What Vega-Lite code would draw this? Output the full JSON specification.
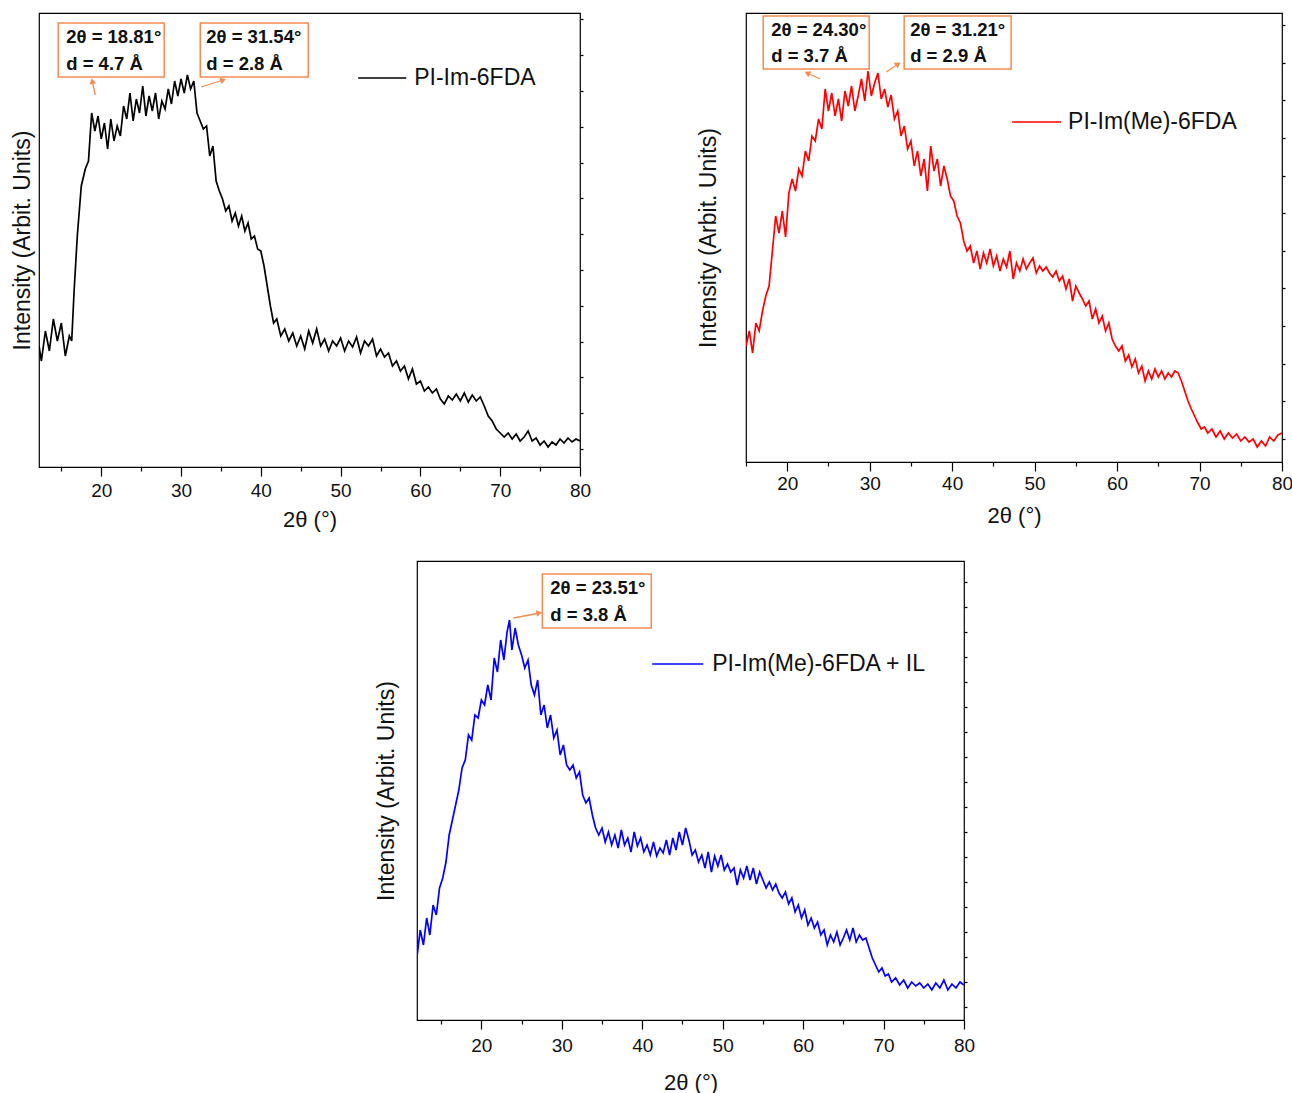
{
 "$schema": "https://vega.github.io/schema/vega-lite/v6.json",
 "padding": {"left": 10, "top": 12, "right": 0, "bottom": 0},
 "config": {
  "view": {"stroke": "#000", "strokeWidth": 1.2},
  "font": "Liberation Sans",
  "axis": {"labelFont": "Liberation Sans", "titleFont": "Liberation Sans", "labelColor": "#111", "titleColor": "#111", "tickColor": "#000", "domainColor": "#000", "grid": false, "titleFontWeight": "normal", "tickWidth": 1.2}
 },
 "datasets": {
  "s1": [
   {"x":12.2,"y":121},{"x":12.5,"y":106},{"x":13.0,"y":136},{"x":13.5,"y":116},{"x":14.0,"y":148},{"x":14.5,"y":126},{"x":15.0,"y":144},{"x":15.5,"y":111},{"x":16.0,"y":131},{"x":16.3,"y":126},{"x":16.6,"y":176},{"x":17.0,"y":231},{"x":17.5,"y":281},{"x":18.0,"y":298},{"x":18.4,"y":306},{"x":18.8,"y":354},{"x":19.2,"y":336},{"x":19.6,"y":351},{"x":20.0,"y":328},{"x":20.4,"y":344},{"x":20.8,"y":318},{"x":21.2,"y":348},{"x":21.6,"y":326},{"x":22.0,"y":341},{"x":22.4,"y":331},{"x":22.8,"y":361},{"x":23.2,"y":348},{"x":23.6,"y":374},{"x":24.0,"y":346},{"x":24.4,"y":368},{"x":24.8,"y":354},{"x":25.2,"y":381},{"x":25.6,"y":351},{"x":26.0,"y":371},{"x":26.4,"y":356},{"x":26.8,"y":374},{"x":27.2,"y":348},{"x":27.6,"y":366},{"x":28.0,"y":358},{"x":28.4,"y":378},{"x":28.8,"y":363},{"x":29.2,"y":386},{"x":29.6,"y":371},{"x":30.0,"y":388},{"x":30.4,"y":374},{"x":30.8,"y":392},{"x":31.2,"y":378},{"x":31.6,"y":386},{"x":32.0,"y":354},{"x":32.4,"y":346},{"x":32.8,"y":338},{"x":33.2,"y":341},{"x":33.6,"y":311},{"x":34.0,"y":321},{"x":34.4,"y":286},{"x":34.8,"y":276},{"x":35.2,"y":268},{"x":35.6,"y":256},{"x":36.0,"y":261},{"x":36.4,"y":246},{"x":36.8,"y":254},{"x":37.2,"y":241},{"x":37.6,"y":251},{"x":38.0,"y":236},{"x":38.4,"y":244},{"x":38.8,"y":228},{"x":39.2,"y":231},{"x":39.6,"y":218},{"x":40.0,"y":216},{"x":40.4,"y":201},{"x":40.8,"y":181},{"x":41.2,"y":161},{"x":41.6,"y":144},{"x":42.0,"y":148},{"x":42.5,"y":131},{"x":43.0,"y":138},{"x":43.5,"y":126},{"x":44.0,"y":134},{"x":44.5,"y":121},{"x":45.0,"y":131},{"x":45.5,"y":118},{"x":46.0,"y":136},{"x":46.5,"y":124},{"x":47.0,"y":138},{"x":47.5,"y":121},{"x":48.0,"y":128},{"x":48.5,"y":116},{"x":49.0,"y":126},{"x":49.5,"y":121},{"x":50.0,"y":129},{"x":50.5,"y":116},{"x":51.0,"y":126},{"x":51.5,"y":120},{"x":52.0,"y":130},{"x":52.5,"y":114},{"x":53.0,"y":126},{"x":53.5,"y":121},{"x":54.0,"y":128},{"x":54.5,"y":111},{"x":55.0,"y":118},{"x":55.5,"y":110},{"x":56.0,"y":114},{"x":56.5,"y":101},{"x":57.0,"y":106},{"x":57.5,"y":96},{"x":58.0,"y":101},{"x":58.5,"y":88},{"x":59.0,"y":98},{"x":59.5,"y":83},{"x":60.0,"y":86},{"x":60.5,"y":76},{"x":61.0,"y":80},{"x":61.5,"y":74},{"x":62.0,"y":78},{"x":62.5,"y":68},{"x":63.0,"y":63},{"x":63.5,"y":71},{"x":64.0,"y":67},{"x":64.5,"y":73},{"x":65.0,"y":66},{"x":65.5,"y":74},{"x":66.0,"y":65},{"x":66.5,"y":72},{"x":67.0,"y":66},{"x":67.5,"y":70},{"x":68.0,"y":61},{"x":68.5,"y":51},{"x":69.0,"y":46},{"x":69.5,"y":38},{"x":70.0,"y":34},{"x":70.5,"y":30},{"x":71.0,"y":34},{"x":71.5,"y":28},{"x":72.0,"y":33},{"x":72.5,"y":26},{"x":73.0,"y":30},{"x":73.5,"y":36},{"x":74.0,"y":26},{"x":74.5,"y":29},{"x":75.0,"y":22},{"x":75.5,"y":26},{"x":76.0,"y":20},{"x":76.5,"y":25},{"x":77.0,"y":22},{"x":77.5,"y":28},{"x":78.0,"y":24},{"x":78.5,"y":29},{"x":79.0,"y":25},{"x":79.5,"y":28},{"x":80.0,"y":26}
  ],
  "s2": [
   {"x":15.0,"y":116},{"x":15.4,"y":131},{"x":15.8,"y":109},{"x":16.2,"y":139},{"x":16.6,"y":131},{"x":17.0,"y":151},{"x":17.4,"y":166},{"x":17.8,"y":176},{"x":18.2,"y":211},{"x":18.6,"y":246},{"x":19.0,"y":229},{"x":19.4,"y":251},{"x":19.8,"y":225},{"x":20.2,"y":269},{"x":20.6,"y":283},{"x":21.0,"y":271},{"x":21.4,"y":293},{"x":21.8,"y":286},{"x":22.2,"y":311},{"x":22.6,"y":301},{"x":23.0,"y":326},{"x":23.4,"y":321},{"x":23.8,"y":343},{"x":24.2,"y":333},{"x":24.6,"y":373},{"x":25.0,"y":351},{"x":25.4,"y":369},{"x":25.8,"y":346},{"x":26.2,"y":363},{"x":26.6,"y":341},{"x":27.0,"y":371},{"x":27.4,"y":356},{"x":27.8,"y":376},{"x":28.2,"y":351},{"x":28.6,"y":366},{"x":29.0,"y":383},{"x":29.4,"y":361},{"x":29.8,"y":391},{"x":30.2,"y":366},{"x":30.6,"y":379},{"x":31.0,"y":389},{"x":31.4,"y":363},{"x":31.8,"y":373},{"x":32.2,"y":355},{"x":32.6,"y":367},{"x":33.0,"y":343},{"x":33.4,"y":351},{"x":33.8,"y":326},{"x":34.2,"y":336},{"x":34.6,"y":313},{"x":35.0,"y":321},{"x":35.4,"y":296},{"x":35.8,"y":311},{"x":36.2,"y":286},{"x":36.6,"y":303},{"x":37.0,"y":271},{"x":37.4,"y":316},{"x":37.8,"y":291},{"x":38.2,"y":303},{"x":38.6,"y":276},{"x":39.0,"y":296},{"x":39.4,"y":283},{"x":39.8,"y":266},{"x":40.2,"y":261},{"x":40.6,"y":246},{"x":41.0,"y":239},{"x":41.4,"y":221},{"x":41.8,"y":211},{"x":42.2,"y":216},{"x":42.6,"y":199},{"x":43.0,"y":211},{"x":43.4,"y":193},{"x":43.8,"y":209},{"x":44.2,"y":199},{"x":44.6,"y":213},{"x":45.0,"y":196},{"x":45.4,"y":206},{"x":45.8,"y":191},{"x":46.2,"y":203},{"x":46.6,"y":195},{"x":47.0,"y":211},{"x":47.4,"y":183},{"x":47.8,"y":199},{"x":48.2,"y":191},{"x":48.6,"y":203},{"x":49.0,"y":193},{"x":49.4,"y":199},{"x":49.8,"y":204},{"x":50.2,"y":189},{"x":50.6,"y":196},{"x":51.0,"y":191},{"x":51.4,"y":195},{"x":51.8,"y":189},{"x":52.2,"y":185},{"x":52.6,"y":191},{"x":53.0,"y":181},{"x":53.4,"y":186},{"x":53.8,"y":173},{"x":54.2,"y":183},{"x":54.6,"y":161},{"x":55.0,"y":176},{"x":55.4,"y":169},{"x":55.8,"y":163},{"x":56.2,"y":156},{"x":56.6,"y":161},{"x":57.0,"y":143},{"x":57.4,"y":153},{"x":57.8,"y":139},{"x":58.2,"y":146},{"x":58.6,"y":131},{"x":59.0,"y":139},{"x":59.4,"y":123},{"x":59.8,"y":116},{"x":60.2,"y":111},{"x":60.6,"y":116},{"x":61.0,"y":101},{"x":61.4,"y":107},{"x":61.8,"y":95},{"x":62.2,"y":103},{"x":62.6,"y":89},{"x":63.0,"y":96},{"x":63.4,"y":81},{"x":63.8,"y":91},{"x":64.2,"y":83},{"x":64.6,"y":93},{"x":65.0,"y":85},{"x":65.4,"y":91},{"x":65.8,"y":83},{"x":66.2,"y":89},{"x":66.6,"y":85},{"x":67.0,"y":91},{"x":67.4,"y":89},{"x":67.8,"y":81},{"x":68.2,"y":71},{"x":68.6,"y":61},{"x":69.0,"y":53},{"x":69.4,"y":46},{"x":69.8,"y":39},{"x":70.2,"y":33},{"x":70.6,"y":35},{"x":71.0,"y":29},{"x":71.5,"y":33},{"x":72.0,"y":25},{"x":72.5,"y":31},{"x":73.0,"y":23},{"x":73.5,"y":29},{"x":74.0,"y":24},{"x":74.5,"y":28},{"x":75.0,"y":21},{"x":75.5,"y":25},{"x":76.0,"y":20},{"x":76.5,"y":23},{"x":77.0,"y":15},{"x":77.5,"y":21},{"x":78.0,"y":16},{"x":78.5,"y":25},{"x":79.0,"y":21},{"x":79.5,"y":27},{"x":80.0,"y":29}
  ],
  "s3": [
   {"x":12.0,"y":63},{"x":12.4,"y":90},{"x":12.8,"y":75},{"x":13.2,"y":102},{"x":13.6,"y":85},{"x":14.0,"y":115},{"x":14.4,"y":105},{"x":14.8,"y":132},{"x":15.2,"y":142},{"x":15.6,"y":158},{"x":16.0,"y":185},{"x":16.4,"y":200},{"x":16.8,"y":215},{"x":17.2,"y":230},{"x":17.6,"y":252},{"x":18.0,"y":260},{"x":18.4,"y":285},{"x":18.8,"y":280},{"x":19.2,"y":305},{"x":19.6,"y":302},{"x":20.0,"y":320},{"x":20.4,"y":315},{"x":20.8,"y":335},{"x":21.2,"y":320},{"x":21.6,"y":362},{"x":22.0,"y":348},{"x":22.4,"y":380},{"x":22.8,"y":360},{"x":23.2,"y":388},{"x":23.5,"y":400},{"x":23.8,"y":370},{"x":24.2,"y":392},{"x":24.6,"y":375},{"x":25.0,"y":365},{"x":25.4,"y":352},{"x":25.8,"y":360},{"x":26.2,"y":335},{"x":26.6,"y":325},{"x":27.0,"y":340},{"x":27.4,"y":305},{"x":27.8,"y":315},{"x":28.2,"y":292},{"x":28.6,"y":305},{"x":29.0,"y":282},{"x":29.4,"y":290},{"x":29.8,"y":265},{"x":30.2,"y":275},{"x":30.6,"y":255},{"x":31.0,"y":250},{"x":31.4,"y":255},{"x":31.8,"y":242},{"x":32.2,"y":248},{"x":32.6,"y":225},{"x":33.0,"y":217},{"x":33.4,"y":222},{"x":33.8,"y":205},{"x":34.2,"y":192},{"x":34.6,"y":185},{"x":35.0,"y":192},{"x":35.4,"y":178},{"x":35.8,"y":188},{"x":36.2,"y":175},{"x":36.6,"y":185},{"x":37.0,"y":172},{"x":37.4,"y":190},{"x":37.8,"y":175},{"x":38.2,"y":182},{"x":38.6,"y":168},{"x":39.0,"y":188},{"x":39.4,"y":174},{"x":39.8,"y":182},{"x":40.2,"y":168},{"x":40.6,"y":175},{"x":41.0,"y":165},{"x":41.4,"y":178},{"x":41.8,"y":164},{"x":42.2,"y":172},{"x":42.6,"y":167},{"x":43.0,"y":180},{"x":43.4,"y":165},{"x":43.8,"y":182},{"x":44.2,"y":170},{"x":44.6,"y":188},{"x":45.0,"y":175},{"x":45.4,"y":192},{"x":45.8,"y":180},{"x":46.2,"y":165},{"x":46.6,"y":170},{"x":47.0,"y":158},{"x":47.4,"y":165},{"x":47.8,"y":152},{"x":48.2,"y":168},{"x":48.6,"y":148},{"x":49.0,"y":164},{"x":49.4,"y":154},{"x":49.8,"y":165},{"x":50.2,"y":150},{"x":50.6,"y":156},{"x":51.0,"y":148},{"x":51.4,"y":152},{"x":51.8,"y":135},{"x":52.2,"y":150},{"x":52.6,"y":142},{"x":53.0,"y":154},{"x":53.4,"y":140},{"x":53.8,"y":152},{"x":54.2,"y":136},{"x":54.6,"y":148},{"x":55.0,"y":140},{"x":55.4,"y":132},{"x":55.8,"y":138},{"x":56.2,"y":130},{"x":56.6,"y":136},{"x":57.0,"y":127},{"x":57.4,"y":122},{"x":57.8,"y":128},{"x":58.2,"y":116},{"x":58.6,"y":122},{"x":59.0,"y":108},{"x":59.4,"y":115},{"x":59.8,"y":102},{"x":60.2,"y":110},{"x":60.6,"y":95},{"x":61.0,"y":102},{"x":61.4,"y":92},{"x":61.8,"y":98},{"x":62.2,"y":85},{"x":62.6,"y":90},{"x":63.0,"y":75},{"x":63.4,"y":85},{"x":63.8,"y":78},{"x":64.2,"y":88},{"x":64.6,"y":75},{"x":65.0,"y":82},{"x":65.4,"y":90},{"x":65.8,"y":80},{"x":66.2,"y":92},{"x":66.6,"y":78},{"x":67.0,"y":85},{"x":67.4,"y":80},{"x":67.8,"y":82},{"x":68.2,"y":72},{"x":68.6,"y":62},{"x":69.0,"y":55},{"x":69.4,"y":48},{"x":69.8,"y":52},{"x":70.2,"y":44},{"x":70.6,"y":46},{"x":71.0,"y":38},{"x":71.5,"y":42},{"x":72.0,"y":35},{"x":72.5,"y":40},{"x":73.0,"y":32},{"x":73.5,"y":38},{"x":74.0,"y":34},{"x":74.5,"y":37},{"x":75.0,"y":32},{"x":75.5,"y":36},{"x":76.0,"y":30},{"x":76.5,"y":37},{"x":77.0,"y":32},{"x":77.5,"y":40},{"x":78.0,"y":30},{"x":78.5,"y":36},{"x":79.0,"y":32},{"x":79.5,"y":38},{"x":80.0,"y":35}
  ]
 },
 "spacing": 29,
 "vconcat": [
  {
   "spacing": 104,
   "hconcat": [
    {
     "width": 541, "height": 454,
     "resolve": {"axis": {"x": "independent", "y": "independent"}},
     "layer": [
      {"data": {"name": "s1"}, "mark": {"type": "line", "color": "#000000", "strokeWidth": 1.7, "clip": true},
       "encoding": {
        "x": {"field": "x", "type": "quantitative", "scale": {"domain": [12.2, 80], "nice": false, "zero": false},
              "axis": {"orient": "bottom", "values": [20, 30, 40, 50, 60, 70, 80], "title": "2θ (°)", "tickSize": 9, "labelPadding": 5, "labelFontSize": 19, "titleFontSize": 22, "titlePadding": 9, "domain": false, "labelFlush": false, "labelOverlap": false}},
        "y": {"field": "y", "type": "quantitative", "scale": {"domain": [0, 454], "nice": false, "zero": false},
              "axis": {"orient": "left", "title": "Intensity (Arbit. Units)", "labels": false, "ticks": false, "domain": false, "titleFontSize": 23, "titlePadding": 5}}
       }},
      {"data": {"values": [{"x": 52.2, "x2": 58.22, "y": 389}]}, "mark": {"type": "rule", "color": "#000000", "strokeWidth": 1.5},
       "encoding": {
        "x": {"field": "x", "type": "quantitative", "scale": {"domain": [12.2, 80], "nice": false, "zero": false},
              "axis": {"orient": "bottom", "values": [15, 25, 35, 45, 55, 65, 75], "labels": false, "domain": false, "tickSize": 4, "title": null}},
        "x2": {"field": "x2"},
        "y": {"field": "y", "type": "quantitative", "scale": {"domain": [0, 454], "nice": false, "zero": false},
              "axis": {"orient": "right", "values": [18, 54, 90, 125, 161, 197, 233, 269, 304, 340, 376, 412, 448], "labels": false, "domain": false, "tickSize": 3, "title": null}}
       }},
      {"data": {"values": [{"x": 59.22, "y": 389, "t": "PI-Im-6FDA"}]}, "mark": {"type": "text", "align": "left", "baseline": "middle", "fontSize": 23, "color": "#111"},
       "encoding": {
        "x": {"field": "x", "type": "quantitative", "scale": {"domain": [12.2, 80], "nice": false, "zero": false}, "axis": null},
        "y": {"field": "y", "type": "quantitative", "scale": {"domain": [0, 454], "nice": false, "zero": false}, "axis": null},
        "text": {"field": "t"}
       }},
      {"data": {"values": [{"x": 14.61, "x2": 27.89, "y": 444, "y2": 390}, {"x": 32.41, "x2": 45.94, "y": 444, "y2": 390}]},
       "mark": {"type": "rect", "fill": "#ffffff", "stroke": "#F58C4F", "strokeWidth": 1.5},
       "encoding": {
        "x": {"field": "x", "type": "quantitative", "scale": {"domain": [12.2, 80], "nice": false, "zero": false}, "axis": null},
        "x2": {"field": "x2"},
        "y": {"field": "y", "type": "quantitative", "scale": {"domain": [0, 454], "nice": false, "zero": false}, "axis": null},
        "y2": {"field": "y2"}
       }},
      {"data": {"values": [{"x": 15.61, "y": 430, "t": "2θ = 18.81°"}, {"x": 15.61, "y": 403, "t": "d = 4.7 Å"}, {"x": 33.16, "y": 430, "t": "2θ = 31.54°"}, {"x": 33.16, "y": 403, "t": "d = 2.8 Å"}]},
       "mark": {"type": "text", "align": "left", "baseline": "middle", "fontSize": 18.5, "fontWeight": "bold", "color": "#111"},
       "encoding": {
        "x": {"field": "x", "type": "quantitative", "scale": {"domain": [12.2, 80], "nice": false, "zero": false}, "axis": null},
        "y": {"field": "y", "type": "quantitative", "scale": {"domain": [0, 454], "nice": false, "zero": false}, "axis": null},
        "text": {"field": "t"}
       }},
      {"data": {"values": [{"x": 19.25, "y": 372, "x2": 18.87, "y2": 386}, {"x": 32.53, "y": 380, "x2": 35.29, "y2": 387}]},
       "mark": {"type": "rule", "color": "#F58C4F", "strokeWidth": 1.3},
       "encoding": {
        "x": {"field": "x", "type": "quantitative", "scale": {"domain": [12.2, 80], "nice": false, "zero": false}, "axis": null},
        "x2": {"field": "x2"},
        "y": {"field": "y", "type": "quantitative", "scale": {"domain": [0, 454], "nice": false, "zero": false}, "axis": null},
        "y2": {"field": "y2"}
       }},
      {"data": {"values": [{"x": 18.87, "y": 386}]}, "mark": {"type": "point", "shape": "triangle-up", "filled": true, "color": "#F58C4F", "size": 45, "angle": 348, "opacity": 1},
       "encoding": {
        "x": {"field": "x", "type": "quantitative", "scale": {"domain": [12.2, 80], "nice": false, "zero": false}, "axis": null},
        "y": {"field": "y", "type": "quantitative", "scale": {"domain": [0, 454], "nice": false, "zero": false}, "axis": null}
       }},
      {"data": {"values": [{"x": 35.29, "y": 387}]}, "mark": {"type": "point", "shape": "triangle-up", "filled": true, "color": "#F58C4F", "size": 45, "angle": 72, "opacity": 1},
       "encoding": {
        "x": {"field": "x", "type": "quantitative", "scale": {"domain": [12.2, 80], "nice": false, "zero": false}, "axis": null},
        "y": {"field": "y", "type": "quantitative", "scale": {"domain": [0, 454], "nice": false, "zero": false}, "axis": null}
       }}
     ]
    },
    {
     "width": 536, "height": 449,
     "resolve": {"axis": {"x": "independent", "y": "independent"}},
     "layer": [
      {"data": {"name": "s2"}, "mark": {"type": "line", "color": "#FF0000", "strokeWidth": 1.7, "clip": true},
       "encoding": {
        "x": {"field": "x", "type": "quantitative", "scale": {"domain": [15, 80], "nice": false, "zero": false},
              "axis": {"orient": "bottom", "values": [20, 30, 40, 50, 60, 70, 80], "title": "2θ (°)", "tickSize": 9, "labelPadding": 3, "labelFontSize": 19, "titleFontSize": 22, "titlePadding": 12, "domain": false, "labelFlush": false, "labelOverlap": false}},
        "y": {"field": "y", "type": "quantitative", "scale": {"domain": [0, 449], "nice": false, "zero": false},
              "axis": {"orient": "left", "title": "Intensity (Arbit. Units)", "labels": false, "ticks": false, "domain": false, "titleFontSize": 23, "titlePadding": 26}}
       }},
      {"data": {"values": [{"x": 47.27, "x2": 53.21, "y": 340}]}, "mark": {"type": "rule", "color": "#FF0000", "strokeWidth": 1.5},
       "encoding": {
        "x": {"field": "x", "type": "quantitative", "scale": {"domain": [15, 80], "nice": false, "zero": false},
              "axis": {"orient": "bottom", "values": [15, 25, 35, 45, 55, 65, 75], "labels": false, "domain": false, "tickSize": 4, "title": null}},
        "x2": {"field": "x2"},
        "y": {"field": "y", "type": "quantitative", "scale": {"domain": [0, 449], "nice": false, "zero": false},
              "axis": {"orient": "right", "values": [23, 61, 98, 136, 174, 211, 249, 286, 324, 362, 399, 437], "labels": false, "domain": false, "tickSize": 3, "title": null}}
       }},
      {"data": {"values": [{"x": 54.06, "y": 340, "t": "PI-Im(Me)-6FDA"}]}, "mark": {"type": "text", "align": "left", "baseline": "middle", "fontSize": 23, "color": "#111"},
       "encoding": {
        "x": {"field": "x", "type": "quantitative", "scale": {"domain": [15, 80], "nice": false, "zero": false}, "axis": null},
        "y": {"field": "y", "type": "quantitative", "scale": {"domain": [0, 449], "nice": false, "zero": false}, "axis": null},
        "text": {"field": "t"}
       }},
      {"data": {"values": [{"x": 17.09, "x2": 29.94, "y": 446, "y2": 393}, {"x": 34.18, "x2": 47.15, "y": 446, "y2": 393}]},
       "mark": {"type": "rect", "fill": "#ffffff", "stroke": "#F58C4F", "strokeWidth": 1.5},
       "encoding": {
        "x": {"field": "x", "type": "quantitative", "scale": {"domain": [15, 80], "nice": false, "zero": false}, "axis": null},
        "x2": {"field": "x2"},
        "y": {"field": "y", "type": "quantitative", "scale": {"domain": [0, 449], "nice": false, "zero": false}, "axis": null},
        "y2": {"field": "y2"}
       }},
      {"data": {"values": [{"x": 18.06, "y": 432, "t": "2θ = 24.30°"}, {"x": 18.06, "y": 406, "t": "d = 3.7 Å"}, {"x": 34.91, "y": 432, "t": "2θ = 31.21°"}, {"x": 34.91, "y": 406, "t": "d = 2.9 Å"}]},
       "mark": {"type": "text", "align": "left", "baseline": "middle", "fontSize": 18.5, "fontWeight": "bold", "color": "#111"},
       "encoding": {
        "x": {"field": "x", "type": "quantitative", "scale": {"domain": [15, 80], "nice": false, "zero": false}, "axis": null},
        "y": {"field": "y", "type": "quantitative", "scale": {"domain": [0, 449], "nice": false, "zero": false}, "axis": null},
        "text": {"field": "t"}
       }},
      {"data": {"values": [{"x": 24.0, "y": 383, "x2": 22.42, "y2": 389}, {"x": 32.0, "y": 390, "x2": 33.45, "y2": 398}]},
       "mark": {"type": "rule", "color": "#F58C4F", "strokeWidth": 1.3},
       "encoding": {
        "x": {"field": "x", "type": "quantitative", "scale": {"domain": [15, 80], "nice": false, "zero": false}, "axis": null},
        "x2": {"field": "x2"},
        "y": {"field": "y", "type": "quantitative", "scale": {"domain": [0, 449], "nice": false, "zero": false}, "axis": null},
        "y2": {"field": "y2"}
       }},
      {"data": {"values": [{"x": 22.42, "y": 389}]}, "mark": {"type": "point", "shape": "triangle-up", "filled": true, "color": "#F58C4F", "size": 45, "angle": 295, "opacity": 1},
       "encoding": {
        "x": {"field": "x", "type": "quantitative", "scale": {"domain": [15, 80], "nice": false, "zero": false}, "axis": null},
        "y": {"field": "y", "type": "quantitative", "scale": {"domain": [0, 449], "nice": false, "zero": false}, "axis": null}
       }},
      {"data": {"values": [{"x": 33.45, "y": 398}]}, "mark": {"type": "point", "shape": "triangle-up", "filled": true, "color": "#F58C4F", "size": 45, "angle": 56, "opacity": 1},
       "encoding": {
        "x": {"field": "x", "type": "quantitative", "scale": {"domain": [15, 80], "nice": false, "zero": false}, "axis": null},
        "y": {"field": "y", "type": "quantitative", "scale": {"domain": [0, 449], "nice": false, "zero": false}, "axis": null}
       }}
     ]
    }
   ]
  },
  {
   "spacing": 0,
   "hconcat": [
    {"width": 335, "height": 10, "view": {"stroke": null}, "data": {"values": [{"a": 1}]}, "mark": {"type": "point", "opacity": 0}, "encoding": {}},
    {
     "width": 547, "height": 459,
     "resolve": {"axis": {"x": "independent", "y": "independent"}},
     "layer": [
      {"data": {"name": "s3"}, "mark": {"type": "line", "color": "#0000FF", "strokeWidth": 1.7, "clip": true},
       "encoding": {
        "x": {"field": "x", "type": "quantitative", "scale": {"domain": [12, 80], "nice": false, "zero": false},
              "axis": {"orient": "bottom", "values": [20, 30, 40, 50, 60, 70, 80], "title": "2θ (°)", "tickSize": 9, "labelPadding": 7, "labelFontSize": 19, "titleFontSize": 22, "titlePadding": 17, "domain": false, "labelFlush": false, "labelOverlap": false}},
        "y": {"field": "y", "type": "quantitative", "scale": {"domain": [0, 459], "nice": false, "zero": false},
              "axis": {"orient": "left", "title": "Intensity (Arbit. Units)", "labels": false, "ticks": false, "domain": false, "titleFontSize": 23, "titlePadding": 19}}
       }},
      {"data": {"values": [{"x": 41.24, "x2": 47.58, "y": 356}]}, "mark": {"type": "rule", "color": "#0000FF", "strokeWidth": 1.5},
       "encoding": {
        "x": {"field": "x", "type": "quantitative", "scale": {"domain": [12, 80], "nice": false, "zero": false},
              "axis": {"orient": "bottom", "values": [15, 25, 35, 45, 55, 65, 75], "labels": false, "domain": false, "tickSize": 4, "title": null}},
        "x2": {"field": "x2"},
        "y": {"field": "y", "type": "quantitative", "scale": {"domain": [0, 459], "nice": false, "zero": false},
              "axis": {"orient": "right", "values": [13, 38, 63, 88, 113, 138, 163, 188, 213, 238, 263, 288, 313, 338, 363, 388, 413, 438], "labels": false, "domain": false, "tickSize": 3, "title": null}}
       }},
      {"data": {"values": [{"x": 48.7, "y": 356, "t": "PI-Im(Me)-6FDA + IL"}]}, "mark": {"type": "text", "align": "left", "baseline": "middle", "fontSize": 23, "color": "#111"},
       "encoding": {
        "x": {"field": "x", "type": "quantitative", "scale": {"domain": [12, 80], "nice": false, "zero": false}, "axis": null},
        "y": {"field": "y", "type": "quantitative", "scale": {"domain": [0, 459], "nice": false, "zero": false}, "axis": null},
        "text": {"field": "t"}
       }},
      {"data": {"values": [{"x": 27.58, "x2": 41.12, "y": 446, "y2": 392}]},
       "mark": {"type": "rect", "fill": "#ffffff", "stroke": "#F58C4F", "strokeWidth": 1.5},
       "encoding": {
        "x": {"field": "x", "type": "quantitative", "scale": {"domain": [12, 80], "nice": false, "zero": false}, "axis": null},
        "x2": {"field": "x2"},
        "y": {"field": "y", "type": "quantitative", "scale": {"domain": [0, 459], "nice": false, "zero": false}, "axis": null},
        "y2": {"field": "y2"}
       }},
      {"data": {"values": [{"x": 28.57, "y": 432, "t": "2θ = 23.51°"}, {"x": 28.57, "y": 405, "t": "d = 3.8 Å"}]},
       "mark": {"type": "text", "align": "left", "baseline": "middle", "fontSize": 18.5, "fontWeight": "bold", "color": "#111"},
       "encoding": {
        "x": {"field": "x", "type": "quantitative", "scale": {"domain": [12, 80], "nice": false, "zero": false}, "axis": null},
        "y": {"field": "y", "type": "quantitative", "scale": {"domain": [0, 459], "nice": false, "zero": false}, "axis": null},
        "text": {"field": "t"}
       }},
      {"data": {"values": [{"x": 23.98, "y": 402, "x2": 27.3, "y2": 407}]},
       "mark": {"type": "rule", "color": "#F58C4F", "strokeWidth": 1.3},
       "encoding": {
        "x": {"field": "x", "type": "quantitative", "scale": {"domain": [12, 80], "nice": false, "zero": false}, "axis": null},
        "x2": {"field": "x2"},
        "y": {"field": "y", "type": "quantitative", "scale": {"domain": [0, 459], "nice": false, "zero": false}, "axis": null},
        "y2": {"field": "y2"}
       }},
      {"data": {"values": [{"x": 27.2, "y": 407}]}, "mark": {"type": "point", "shape": "triangle-up", "filled": true, "color": "#F58C4F", "size": 45, "angle": 80, "opacity": 1},
       "encoding": {
        "x": {"field": "x", "type": "quantitative", "scale": {"domain": [12, 80], "nice": false, "zero": false}, "axis": null},
        "y": {"field": "y", "type": "quantitative", "scale": {"domain": [0, 459], "nice": false, "zero": false}, "axis": null}
       }}
     ]
    }
   ]
  }
 ]
}
